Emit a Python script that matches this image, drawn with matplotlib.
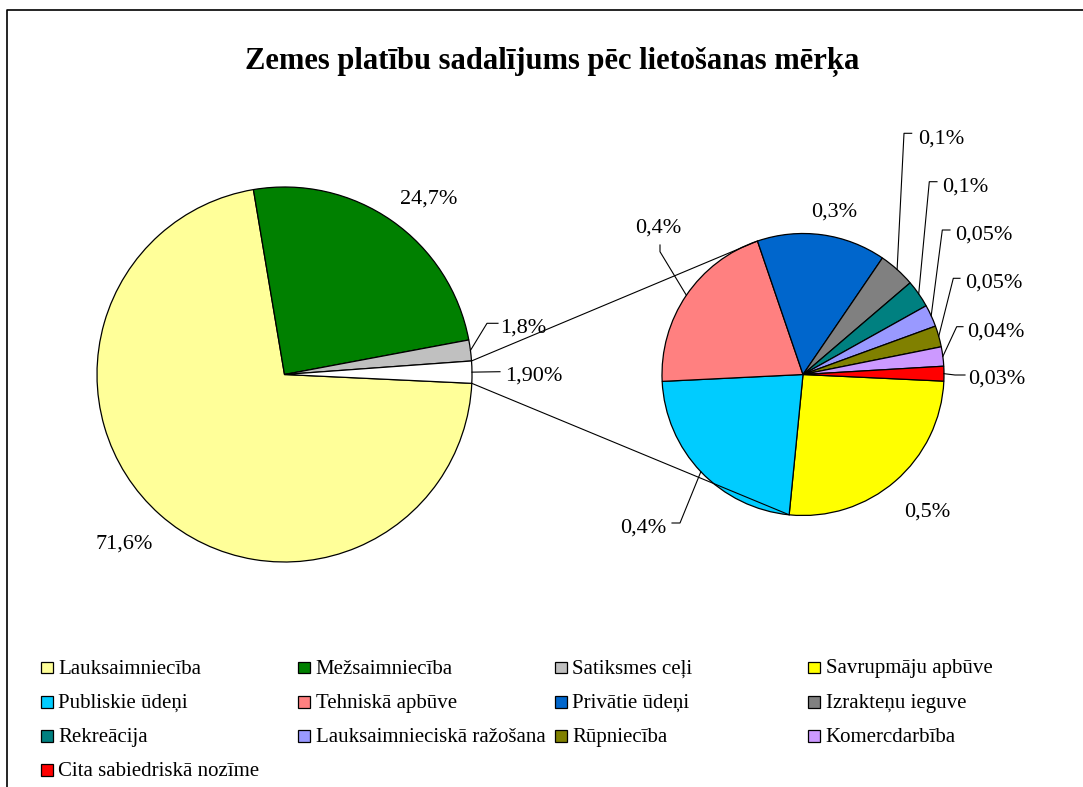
import numpy as np
from matplotlib import pyplot as plt
from matplotlib.patches import Rectangle

W, H = 1083, 787

# galvenais aplis
main_labels = ["Lauksaimniecība", "Mežsaimniecība", "Satiksmes ceļi", "Citi"]
main_values = [71.6, 24.7, 1.8, 1.9]
main_text = ["71,6%", "24,7%", "1,8%", "1,90%"]
main_colors = ["#FFFF99", "#008000", "#C0C0C0", "#FFFFFF"]

# otrais aplis - sadalījums 1,90% daļai
sub_labels = ["Savrupmāju apbūve", "Publiskie ūdeņi", "Tehniskā apbūve", "Privātie ūdeņi",
              "Izrakteņu ieguve", "Rekreācija", "Lauksaimnieciskā ražošana", "Rūpniecība",
              "Komercdarbība", "Cita sabiedriskā nozīme"]
sub_values = [0.49, 0.43, 0.39, 0.28, 0.08, 0.06, 0.048, 0.046, 0.042, 0.032]
sub_text = ["0,5%", "0,4%", "0,4%", "0,3%", "0,1%", "0,1%", "0,05%", "0,05%", "0,04%", "0,03%"]
sub_colors = ["#FFFF00", "#00CCFF", "#FF8080", "#0066CC", "#808080",
              "#008080", "#9999FF", "#808000", "#CC99FF", "#FF0000"]

SERIF = "Liberation Serif"


def Y(y):
    # pikseļi no augšas -> ass koordinātas
    return H - y


def edge(w, ang=None):
    if ang is None:
        ang = (w.theta1 + w.theta2) / 2
    cx, cy = w.center
    a = np.radians(ang)
    return cx + w.r * np.cos(a), cy + w.r * np.sin(a)


fig = plt.figure(figsize=(W / 100, H / 100), dpi=100)
ax = fig.add_axes([0, 0, 1, 1])

wprops = dict(edgecolor="black", linewidth=0.9)
w1, _ = ax.pie(main_values, colors=main_colors, center=(284.5, Y(374.5)), radius=187.5,
               startangle=-2.7, counterclock=False, wedgeprops=wprops)
w2, _ = ax.pie(sub_values, colors=sub_colors, center=(803, Y(374.5)), radius=141,
               startangle=-2.7, counterclock=False, wedgeprops=wprops)
ax.set_xlim(0, W)
ax.set_ylim(0, H)
ax.set_aspect("equal")
ax.axis("off")

# savienojošās līnijas
other = w1[3]
for a, b in [(edge(other, other.theta2), edge(w2[3], w2[3].theta2)),
             (edge(other, other.theta1), edge(w2[0], w2[0].theta1))]:
    ax.plot([a[0], b[0]], [a[1], b[1]], color="black", lw=0.8, zorder=5)

# datu etiķetes: (x, bāzes līnija, novietojums, līnijas lūzuma punkti)
main_pos = [(124, 549, "center", None),
            (429, 204, "center", None),
            (500, 333, "left", [(487, 323.3), (498, 323.3)]),
            (505, 381, "left", [(500, 371.7)])]
sub_pos = [(927.5, 517, "center", None),
           (643, 533, "center", [(680, 523), (672, 523)]),
           (658, 233, "center", [(660, 251.7), (660, 245)]),
           (833.7, 217, "center", None),
           (918, 144, "left", [(904, 133.3), (911.7, 133.3)]),
           (942, 191.7, "left", [(929.3, 181.7), (937, 181.7)]),
           (955, 240, "left", [(942.3, 230), (950, 230)]),
           (965, 288, "left", [(953.3, 278.3), (960, 278.3)]),
           (967, 336.7, "left", [(956.7, 326.7), (963, 326.7)]),
           (968.3, 383.3, "left", [(955, 375), (965, 375)])]

for wedges, texts, pos in [(w1, main_text, main_pos), (w2, sub_text, sub_pos)]:
    for w, t, (x, y, ha, leader) in zip(wedges, texts, pos):
        ax.text(x, Y(y), t, ha=ha, va="baseline", fontsize=16, family=SERIF)
        if leader:
            ex, ey = edge(w)
            xs = [ex] + [p[0] for p in leader]
            ys = [ey] + [Y(p[1]) for p in leader]
            ax.plot(xs, ys, color="black", lw=0.8)

ax.text(552, Y(69), "Zemes platību sadalījums pēc lietošanas mērķa", ha="center",
        va="baseline", fontsize=22, fontweight="bold", family=SERIF)

# leģenda, rindās pa 4
leg_labels = main_labels[:3] + sub_labels
leg_colors = main_colors[:3] + sub_colors
col_x = [41, 298, 555, 808]
row_base = [673.5, 708, 742, 776]
for i, (lab, col) in enumerate(zip(leg_labels, leg_colors)):
    x = col_x[i % 4]
    yb = row_base[i // 4]
    ax.add_patch(Rectangle((x, Y(yb - 0.5)), 11.5, 11.5, facecolor=col,
                           edgecolor="black", linewidth=0.9))
    ax.text(x + 17.5, Y(yb), lab, ha="left", va="baseline", fontsize=15, family=SERIF)

# rāmis
ax.plot([7, 7, W], [0, Y(10), Y(10)], color="black", lw=1.2, clip_on=False)

fig.savefig("out.png")
